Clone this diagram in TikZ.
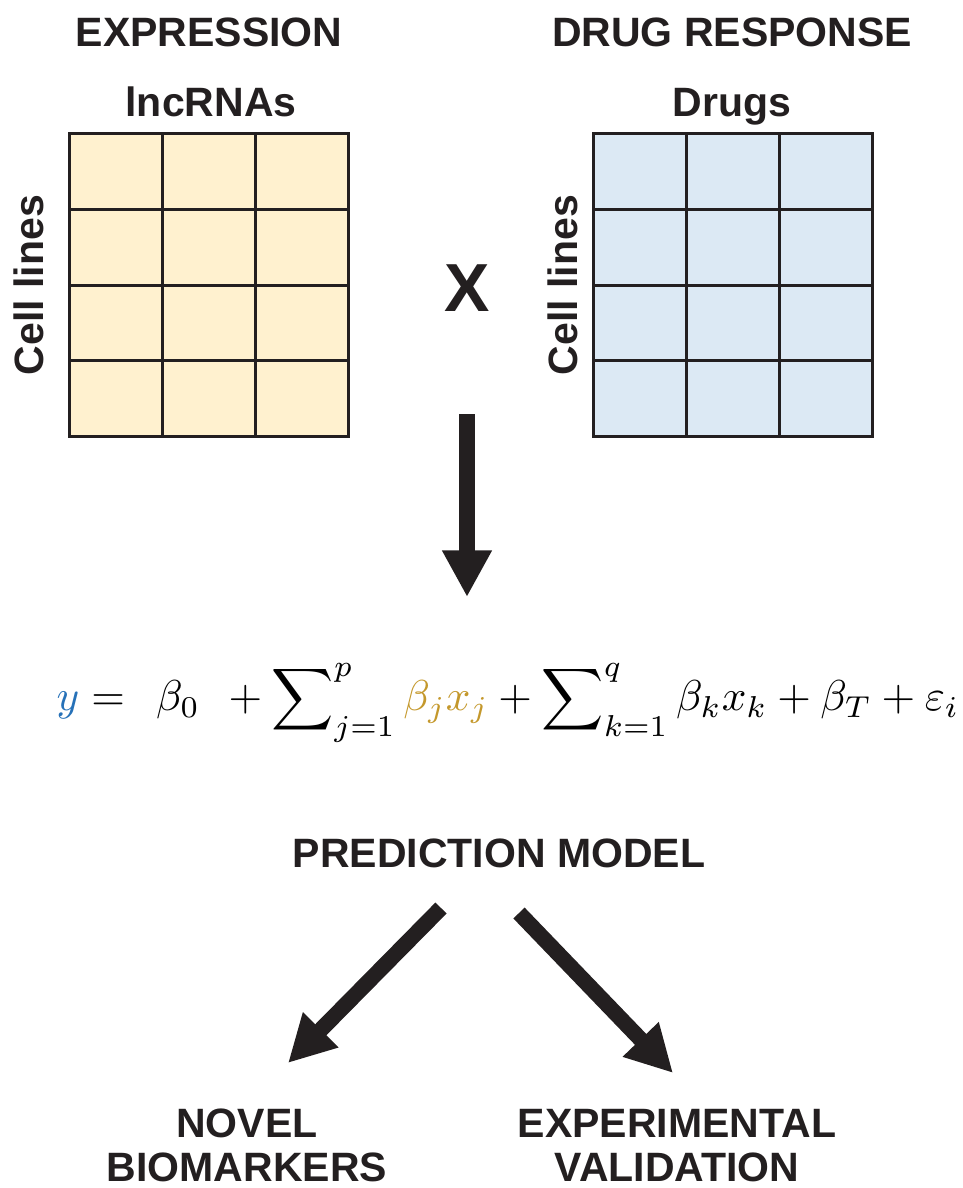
\documentclass[tikz,border=0pt]{standalone}
\usepackage{fontspec}
\usepackage{amsmath}
\usetikzlibrary{arrows.meta}
\newfontfamily\labfont{Liberation Sans}
\definecolor{ink}{RGB}{35,31,32}
\definecolor{yblue}{RGB}{38,113,184}
\definecolor{gold}{RGB}{196,152,44}
\definecolor{cream}{RGB}{255,241,207}
\definecolor{paleblue}{RGB}{220,233,244}
\tikzset{
  lab/.style={font=\labfont\bfseries\fontsize{30.75pt}{36pt}\selectfont, text=ink, inner sep=0pt},
  grid line/.style={draw=ink, line width=2.25pt},
  bigarrow/.style={draw=ink, fill=ink, line width=11.75pt, -{Triangle[width=35pt,length=35pt]}}
}
\begin{document}
\begin{tikzpicture}[x=0.75pt,y=-0.75pt]
\useasboundingbox (0,0) rectangle (963,1188);
% titles
\node[lab, anchor=base] (expr) at (209,47) {EXPRESSION};
\node[lab, anchor=base] (drug) at (732,47) {DRUG RESPONSE};
\node[lab, anchor=base] (lnc) at (211,117) {lncRNAs};
\node[lab, anchor=base] (drugs) at (732,117) {Drugs};
\node[lab, rotate=90] (cell1) at (29,285) {Cell lines};
\node[lab, rotate=90] (cell2) at (563,285) {Cell lines};
% left matrix
\fill[cream] (69,133) rectangle (348,436);
\foreach \y in {209,285,360} \draw[grid line] (69,\y) -- (348,\y);
\foreach \x in {162,255} \draw[grid line] (\x,133) -- (\x,436);
\draw[grid line] (69,133) rectangle (348,436);
% right matrix
\fill[paleblue] (593,133) rectangle (872,436);
\foreach \y in {209,285,360} \draw[grid line] (593,\y) -- (872,\y);
\foreach \x in {686,779} \draw[grid line] (\x,133) -- (\x,436);
\draw[grid line] (593,133) rectangle (872,436);
% times
\node[lab, font=\labfont\bfseries\fontsize{51pt}{56pt}\selectfont] (times) at (467,288) {X};
% arrow down
\coordinate (d1) at (467,414);
\coordinate (d2) at (467,597);
\draw[bigarrow] (d1) -- (d2);
% formula
\node[inner sep=0pt] (formula) at (508,703) {\resizebox{677pt}{!}{$\displaystyle
  \textcolor{yblue}{y} =\;\, \beta_0 \;\,+ \sum\nolimits_{j=1}^{p} \textcolor{gold}{\beta_j x_j} + \sum\nolimits_{k=1}^{q} \beta_k x_k + \beta_T + \varepsilon_i$}};
% prediction model
\node[lab, anchor=base] (pred) at (499,867) {PREDICTION MODEL};
% diagonal arrows
\coordinate (l1) at (441,908);
\coordinate (l2) at (288,1063);
\coordinate (r1) at (519,913);
\coordinate (r2) at (673,1073);
\draw[bigarrow] (l1) -- (l2);
\draw[bigarrow] (r1) -- (r2);
% outcomes
\node[lab, anchor=base] (novel) at (247,1137) {NOVEL};
\node[lab, anchor=base] (bio) at (247,1181) {BIOMARKERS};
\node[lab, anchor=base] (exper) at (677,1137) {EXPERIMENTAL};
\node[lab, anchor=base] (valid) at (677,1181) {VALIDATION};
\end{tikzpicture}
\end{document}
